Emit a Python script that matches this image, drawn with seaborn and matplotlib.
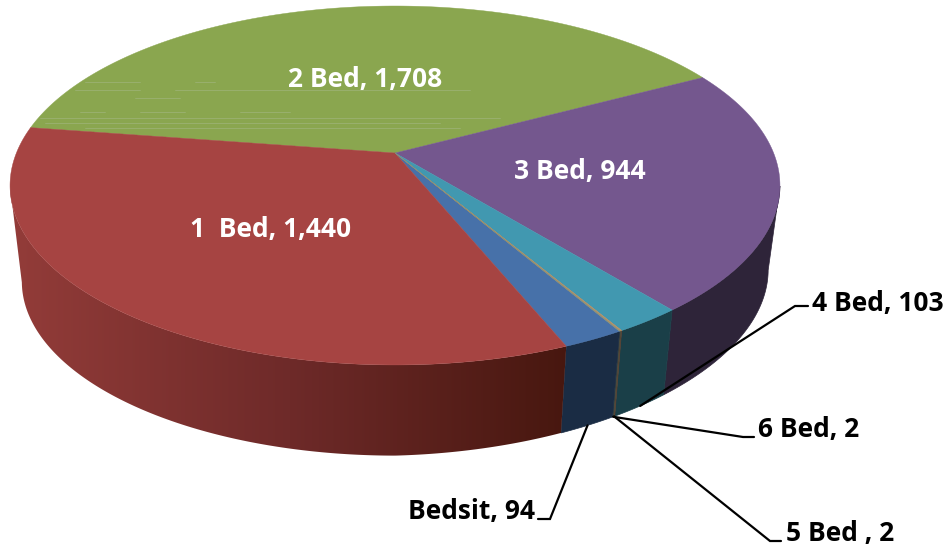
#!/usr/bin/env python3
"""Dwelling sizes as a 3D pie, drawn with perspective by hand"""

import numpy as np
import matplotlib
matplotlib.use('Agg')
import matplotlib.pyplot as plt
from matplotlib.patches import Polygon
import seaborn as sns

categories = ['Bedsit', '1 Bed', '2 Bed', '3 Bed', '4 Bed', '5 Bed', '6 Bed']
values = [94, 1440, 1708, 944, 103, 2, 2]
labels = ['Bedsit, 94', '1  Bed, 1,440', '2 Bed, 1,708', '3 Bed, 944',
          '4 Bed, 103', '5 Bed , 2', '6 Bed, 2']
top_colors = ['#4771a9', '#a64442', '#8aa64f', '#74578e', '#4198b0', '#c98a55', '#8a8f70']
side_colors = ['#1a2c44', '#7a2f2e', '#55672f', '#2e2439', '#1a3f48', '#5a4030', '#44483a']

sns.set_theme(style='white')
plt.rcParams['font.family'] = ['Open Sans', 'DejaVu Sans']

# Pie geometry, in pixels of the 951x550 picture
CX = 395
START = 60.0
K = 0.181
TOP = dict(cy=153, rx=378.6, ry=173.6, tilt=0)
LOW = dict(cy=250, rx=367, ry=168.4, tilt=12)
FONT = 19


def project(t, plane, r=1.0):
    """Angle (deg, clockwise on screen) to picture position on a pie face"""
    t = np.radians(t)
    c, s = r * np.cos(t), r * np.sin(t)
    d = 1 - K * s
    y = plane['cy'] + plane['ry'] * s / d - plane['tilt'] * np.clip(c, 0, None)
    return CX + plane['rx'] * c / d, y


def angles(i):
    return np.linspace(starts[i], ends[i], max(2, int(sweeps[i] * 3) + 1))


fig = plt.figure(figsize=(9.51, 5.5), dpi=100)
ax = fig.add_axes([0, 0, 1, 1])

sweeps = np.array(values) / sum(values) * 360
starts = START + np.concatenate([[0], np.cumsum(sweeps)[:-1]])
ends = starts + sweeps

# Sides first, only the part of each slice that faces the viewer
for i in [3, 4, 5, 6, 0, 1]:
    ts = angles(i)
    ts = ts[np.sin(np.radians(ts)) >= K]
    x_top, y_top = project(ts, TOP)
    x_low, y_low = project(ts, LOW)
    xy = np.column_stack([np.r_[x_top, x_low[::-1]], np.r_[y_top, y_low[::-1]]])
    if categories[i] == '1 Bed':
        # Red side darkens from left to right
        shades = sns.blend_palette(['#933c39', '#6e2a29', '#47170f'], n_colors=256)
        img = ax.imshow(np.array(shades)[None, :, :], extent=(10, 570, 550, 0),
                        aspect='auto', zorder=2)
        img.set_clip_path(Polygon(xy, closed=True, transform=ax.transData))
    else:
        ax.fill(xy[:, 0], xy[:, 1], color=side_colors[i], lw=0.5, zorder=2)

# Top face
x_mid, y_mid = project(0, TOP, r=0)
for i in [2, 3, 0, 1, 4, 5, 6]:
    xs, ys = project(angles(i), TOP)
    ax.fill(np.r_[x_mid, xs], np.r_[y_mid, ys], color=top_colors[i], lw=0.3, zorder=3)

# Pale render streaks across the green slice
streaks = [(82, 85, 140), (82, 195, 215), (90, 75, 140), (90, 175, 470), (98, 135, 180),
           (112, 80, 105), (112, 140, 185), (112, 240, 290), (118, 40, 500),
           (123, 45, 440), (128, 85, 460)]
for y, x0, x1 in streaks:
    ax.plot([x0, x1], [y, y], color='#9bb172', lw=0.6, zorder=3.5)

# Labels inside the pie
inner = {'1 Bed': (271, 229), '2 Bed': (365, 79), '3 Bed': (580, 172)}
for name, (x, y) in inner.items():
    ax.text(x, y, labels[categories.index(name)], color='white', fontsize=FONT,
            fontweight='bold', ha='center', va='center', zorder=5)

# Outside labels: elbow of the leader, end of the leader, text position
outer = {
    '4 Bed': ((795, 306), (808, 306), (812, 303), 'left'),
    '6 Bed': ((743, 437), (754, 437), (758, 430), 'left'),
    '5 Bed': ((770, 541), (781, 541), (786, 534), 'left'),
    'Bedsit': ((550, 519), (538, 519), (535, 512), 'right'),
}
for name, (elbow, end, pos, ha) in outer.items():
    i = categories.index(name)
    x_a, y_a = project((starts[i] + ends[i]) / 2, LOW)
    ax.plot([x_a, elbow[0], end[0]], [y_a, elbow[1], end[1]], color='black', lw=1.6,
            solid_joinstyle='miter', zorder=4)
    ax.text(pos[0], pos[1], labels[i], color='black', fontsize=FONT, fontweight='bold',
            ha=ha, va='center', zorder=5)

ax.set_xlim(0, 951)
ax.set_ylim(550, 0)
ax.axis('off')

fig.savefig('out.png', dpi=100)
plt.close(fig)
